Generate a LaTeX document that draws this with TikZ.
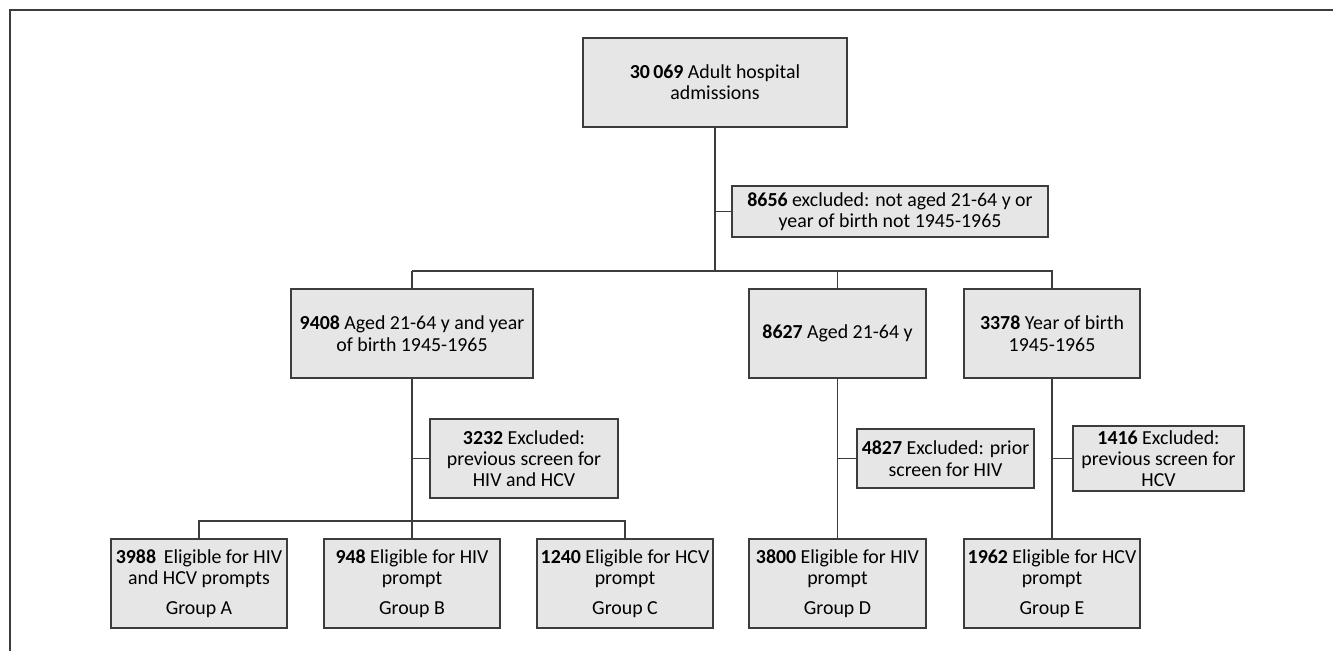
\documentclass[tikz,border=0pt]{standalone}
\usepackage{fontspec}
\setmainfont{Carlito}

\definecolor{boxgray}{RGB}{230,230,230}
\definecolor{edgegray}{RGB}{60,60,60}

\tikzset{every picture/.style={line width=1pt}}
\tikzset{
	flowbox/.style={draw=edgegray, fill=boxgray, align=center, inner sep=0pt, font=\fontsize{14.9}{16}\selectfont},
	link/.style={draw=edgegray}
}

\begin{document}
\begin{tikzpicture}[x=0.75pt,y=0.75pt,yscale=-1,xscale=1]
	\useasboundingbox (0,0) rectangle (1333,651);

	%Frame
	\draw [line width=1.5pt, color=edgegray] (10,651) -- (10,9.5) -- (1333,9.5) ;

	% Top box
	\node [flowbox, minimum width=198pt, minimum height=66.75pt] (adm) at (715,82.5) {\textbf{30\,069} Adult hospital\\admissions};
	% First exclusion
	\node [flowbox, minimum width=237pt, minimum height=38.25pt] (exc1) at (890,211.5) {\textbf{8656} excluded: not aged 21-64 y or\\year of birth not 1945-1965};

	% Second row
	\node [flowbox, minimum width=181.5pt, minimum height=66.75pt] (age1) at (412,333.5) {\textbf{9408} Aged 21-64 y and year\\of birth 1945-1965};
	\node [flowbox, minimum width=132.75pt, minimum height=66.75pt] (age2) at (837.5,333.5) {\textbf{8627} Aged 21-64 y};
	\node [flowbox, minimum width=132pt, minimum height=66.75pt] (age3) at (1052,333.5) {\textbf{3378} Year of birth\\1945-1965};

	% Exclusions
	\node [flowbox, minimum width=141pt, minimum height=59.25pt] (exc2) at (524,458.5) {\textbf{3232} Excluded:\\previous screen for\\HIV and HCV};
	\node [flowbox, minimum width=132.75pt, minimum height=44.25pt] (exc3) at (945.5,458.5) {\textbf{4827} Excluded: prior\\screen for HIV};
	\node [flowbox, minimum width=128.25pt, minimum height=48.75pt] (exc4) at (1158.5,458.5) {\textbf{1416} Excluded:\\previous screen for\\HCV};

	% Groups
	\node [flowbox, minimum width=132pt, minimum height=66.75pt] (grpA) at (199,583.5) {\textbf{3988}\, Eligible for HIV\\and HCV prompts\\[6pt]Group A};
	\node [flowbox, minimum width=132pt, minimum height=66.75pt] (grpB) at (412,583.5) {\textbf{948} Eligible for HIV\\prompt\\[6pt]Group B};
	\node [flowbox, minimum width=132pt, minimum height=66.75pt] (grpC) at (625,583.5) {\textbf{1240} Eligible for HCV\\prompt\\[6pt]Group C};
	\node [flowbox, minimum width=132.75pt, minimum height=66.75pt] (grpD) at (837.5,583.5) {\textbf{3800} Eligible for HIV\\prompt\\[6pt]Group D};
	\node [flowbox, minimum width=132pt, minimum height=66.75pt] (grpE) at (1052,583.5) {\textbf{1962} Eligible for HCV\\prompt\\[6pt]Group E};

	% Bus points
	\coordinate (bus1) at (715,271);
	\coordinate (s1) at (412,271);
	\coordinate (bus2) at (412,521);

	% Connectors
	\draw [link] (adm.south) -- (bus1) ;
	\draw [link] (adm.south |- exc1.west) -- (exc1.west) ;
	\draw [link] (s1) -- (age3.north |- s1) -- (age3.north) ;
	\draw [link] (s1) -- (age1.north) ;
	\draw [link] (age2.north |- s1) -- (age2.north) ;

	\draw [link] (age1.south) -- (grpB.north) ;
	\draw [link] (age1.south |- exc2.west) -- (exc2.west) ;
	\draw [link] (grpA.north) -- (grpA.north |- bus2) -- (grpC.north |- bus2) -- (grpC.north) ;

	\draw [link] (age2.south) -- (grpD.north) ;
	\draw [link] (age2.south |- exc3.west) -- (exc3.west) ;
	\draw [link] (age3.south) -- (grpE.north) ;
	\draw [link] (age3.south |- exc4.west) -- (exc4.west) ;

\end{tikzpicture}
\end{document}
